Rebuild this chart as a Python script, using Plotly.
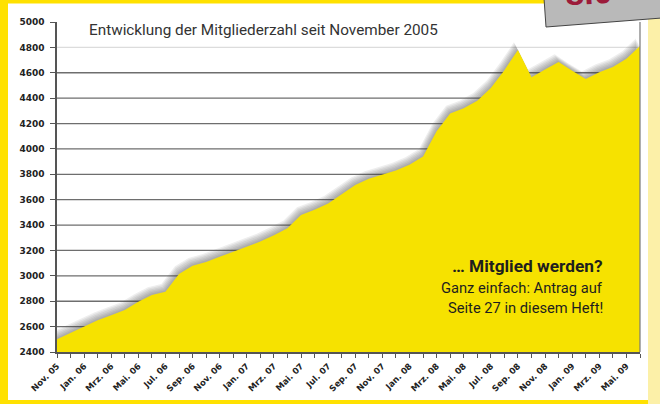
import plotly.graph_objects as go

# ---------------- data ----------------
months = [
    "Nov. 05", "Dez. 05",
    "Jan. 06", "Feb. 06", "Mrz. 06", "Apr. 06", "Mai. 06", "Jun. 06",
    "Jul. 06", "Aug. 06", "Sep. 06", "Okt. 06", "Nov. 06", "Dez. 06",
    "Jan. 07", "Feb. 07", "Mrz. 07", "Apr. 07", "Mai. 07", "Jun. 07",
    "Jul. 07", "Aug. 07", "Sep. 07", "Okt. 07", "Nov. 07", "Dez. 07",
    "Jan. 08", "Feb. 08", "Mrz. 08", "Apr. 08", "Mai. 08", "Jun. 08",
    "Jul. 08", "Aug. 08", "Sep. 08", "Okt. 08", "Nov. 08", "Dez. 08",
    "Jan. 09", "Feb. 09", "Mrz. 09", "Apr. 09", "Mai. 09", "Jun. 09",
]
members = [
    2500, 2550, 2600, 2650, 2690, 2730, 2795, 2850, 2875, 3015,
    3080, 3110, 3150, 3190, 3230, 3270, 3320, 3375, 3480, 3520,
    3570, 3640, 3715, 3765, 3795, 3830, 3875, 3940, 4140, 4280,
    4320, 4380, 4480, 4620, 4780, 4565, 4625, 4685, 4615, 4550,
    4605, 4645, 4710, 4810,
]
y_ticks = [2400, 2600, 2800, 3000, 3200, 3400, 3600, 3800, 4000,
           4200, 4400, 4600, 4800, 5000]
label_step = 2  # every second month labelled

title_text = "Entwicklung der Mitgliederzahl seit November 2005"
callout_lines = ["<b>… Mitglied werden?</b>",
                 "Ganz einfach: Antrag auf",
                 "Seite 27 in diesem Heft!"]

# ---------------- geometry helpers ----------------
W, H = 660, 404
ML, MR, MT, MB = 57, 20, 22, 52
PW, PH = W - ML - MR, H - MT - MB


def px(x):
    return (x - ML) / PW


def py(y):
    return (H - MB - y) / PH


YELLOW_FRAME = "#FFE100"
YELLOW_AREA = "#F6E200"
GRID = "#6e6e6e"
AXIS = "#555555"
TEXT_FONT = "Roboto, Liberation Sans, sans-serif"
TICK_FONT = "DejaVu Sans, sans-serif"

x_idx = list(range(len(months)))

fig = go.Figure()

# soft drop shadow above/left of the area (derived from the same data)
for k in (6, 5, 4, 3, 2, 1):
    fig.add_trace(go.Scatter(
        x=[v - 0.05 * k for v in x_idx],
        y=[v + 10 * k for v in members],
        mode="lines", line=dict(width=0),
        fill="tozeroy", fillcolor="rgba(70,70,70,0.09)",
        hoverinfo="skip", showlegend=False,
    ))

fig.add_trace(go.Scatter(
    x=x_idx, y=members, mode="lines",
    line=dict(width=0, color=YELLOW_AREA),
    fill="tozeroy", fillcolor=YELLOW_AREA,
    showlegend=False,
))

shapes = []
# pale strip at right edge
shapes.append(dict(type="rect", xref="paper", yref="paper",
                   x0=px(648), x1=px(662), y0=py(406), y1=py(-2),
                   fillcolor="#FCF0A8", line=dict(width=0), layer="below"))
# white page inside yellow frame
shapes.append(dict(type="rect", xref="paper", yref="paper",
                   x0=px(8), x1=px(648), y0=py(400), y1=py(3.5),
                   fillcolor="white", line=dict(width=0), layer="below"))
# horizontal grid lines
for v in y_ticks[1:-1]:
    shapes.append(dict(type="line", xref="paper", yref="y",
                       x0=0, x1=1, y0=v, y1=v,
                       line=dict(color="#dcdcdc" if v == 4800 else GRID,
                                 width=1.3),
                       layer="below"))
# right border of plot area
shapes.append(dict(type="line", xref="paper", yref="paper",
                   x0=1, x1=1, y0=0, y1=1,
                   line=dict(color="#777777", width=1.2), layer="above"))
# grey tab at top right
shapes.append(dict(type="path", xref="paper", yref="paper",
                   path=(f"M {px(544)},{py(-2)} L {px(546)},{py(27)} "
                         f"L {px(662)},{py(18)} L {px(662)},{py(-2)} Z"),
                   fillcolor="#b9b9b9", line=dict(color="#444444", width=1),
                   layer="above"))

annotations = [
    dict(text=title_text, xref="paper", yref="paper",
         x=px(87), y=py(30), xanchor="left", yanchor="middle",
         showarrow=False,
         font=dict(family=TEXT_FONT, size=15.3, color="#333333")),
    dict(text="<b>8.0</b>", xref="paper", yref="paper",
         x=px(588), y=py(14), xanchor="center", yanchor="bottom",
         showarrow=False, textangle=-3,
         font=dict(family="Liberation Sans, Arial, sans-serif",
                   size=34, color="#9c1b3a")),
]
callout_y = [265.5, 288, 308]
callout_size = [17.3, 14.7, 14.7]
for line, yy, sz in zip(callout_lines, callout_y, callout_size):
    annotations.append(dict(
        text=line, xref="paper", yref="paper",
        x=px(605), y=py(yy), xanchor="right", yanchor="middle",
        showarrow=False,
        font=dict(family=TEXT_FONT, size=sz, color="#1e1e1e")))

fig.update_layout(
    width=W, height=H,
    margin=dict(l=ML, r=MR, t=MT, b=MB, pad=0),
    paper_bgcolor=YELLOW_FRAME,
    plot_bgcolor="rgba(0,0,0,0)",
    shapes=shapes,
    annotations=annotations,
    xaxis=dict(
        range=[0, len(months) - 1],
        automargin=False,
        tickmode="array",
        tickvals=x_idx[::label_step],
        ticktext=months[::label_step],
        tickangle=-45,
        ticks="outside", ticklen=4, tickwidth=1, tickcolor=AXIS,
        minor=dict(tickmode="linear", tick0=0, dtick=1, ticks="outside",
                   ticklen=4, tickcolor=AXIS, showgrid=False),
        showgrid=False, zeroline=False,
        showline=True, linecolor=AXIS, linewidth=1.5,
        tickfont=dict(family=TICK_FONT, size=8.5, color="#222222",
                      weight="bold"),
        fixedrange=True,
    ),
    yaxis=dict(
        range=[y_ticks[0], y_ticks[-1]],
        automargin=False,
        tickmode="array", tickvals=y_ticks,
        ticks="outside", ticklen=5, tickwidth=1, tickcolor=AXIS,
        showgrid=False, zeroline=False,
        showline=True, linecolor=AXIS, linewidth=1.5,
        ticklabelstandoff=4,
        tickfont=dict(family=TICK_FONT, size=9, color="#222222",
                      weight="bold"),
        fixedrange=True,
    ),
)

fig.write_html("out.html")
